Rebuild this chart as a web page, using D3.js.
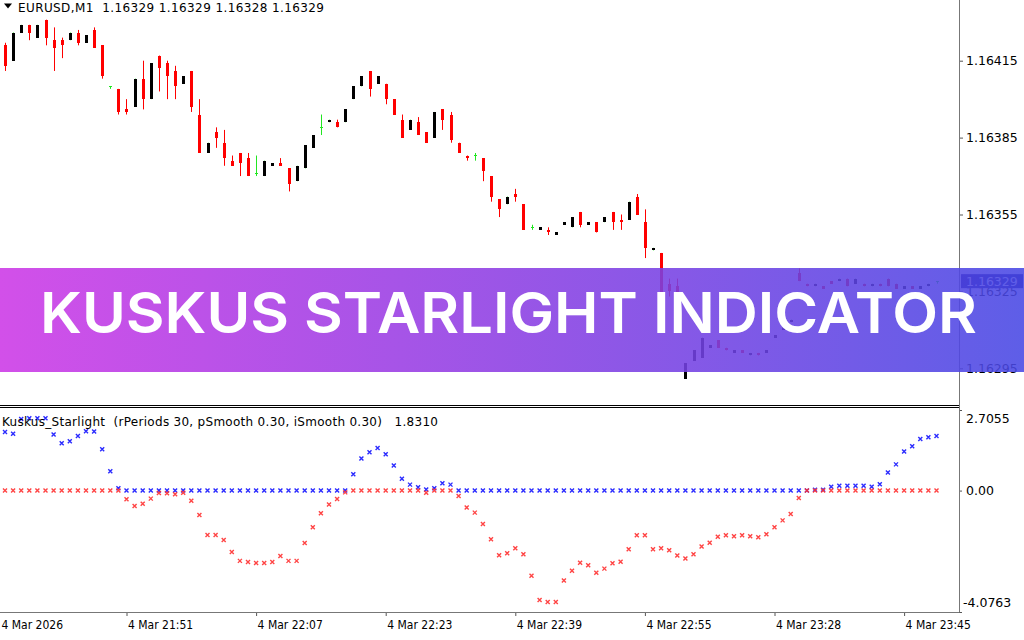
<!DOCTYPE html>
<html>
<head>
<meta charset="utf-8">
<title>Kuskus Starlight Indicator</title>
<script src="https://cdn.jsdelivr.net/npm/d3@7"></script>
<style>
  body { margin: 0; background: #fff; }
  svg { display: block; font-family: "DejaVu Sans", Tahoma, sans-serif; }
</style>
</head>
<body>
<script>
// EURUSD M1 bars (index 0 = leftmost bar)
var open  = [1.16421,1.16415,1.16426,1.16429,1.16424,1.16431,1.16423,1.16423,1.16423,1.16426,
             1.16422,1.16427,1.16421,1.16405,1.16404,1.16396,1.16397,1.16408,1.16400,1.16417,
             1.16414,1.16411,1.16406,1.16411,1.16394,1.16379,1.16387,1.16383,1.16376,1.16379,
             1.16377,1.16371,1.16370,1.16374,1.16375,1.16373,1.16368,1.16373,1.16381,1.16389,
             1.16391,1.16391,1.16391,1.16400,1.16405,1.16411,1.16406,1.16406,1.16400,1.16392,
             1.16388,1.16391,1.16387,1.16385,1.16396,1.16394,1.16383,1.16378,1.16378,1.16377,
             1.16370,1.16361,1.16359,1.16363,1.16359,1.16350,1.16349,1.16349,1.16347,1.16351,
             1.16350,1.16356,1.16351,1.16352,1.16352,1.16356,1.16353,1.16353,1.16362,1.16352,
             1.16341,1.16340,1.16328,1.16327,1.16291,1.16298,1.16299,1.16303,1.16306,1.16303,
             1.16301,1.16302,1.16300,1.16301,1.16301,1.16307,1.16310,1.16313,1.16332,1.16328,
             1.16327,1.16327,1.16329,1.16329,1.16330,1.16328,1.16328,1.16327,1.16328,1.16330,
             1.16328,1.16326,1.16327,1.16326,1.16327,1.16329];
var high  = [1.16422,1.16426,1.16429,1.16429,1.16429,1.16431,1.16428,1.16424,1.16426,1.16427,
             1.16425,1.16428,1.16421,1.16405,1.16404,1.16400,1.16408,1.16415,1.16414,1.16417,
             1.16415,1.16413,1.16409,1.16411,1.16400,1.16383,1.16389,1.16388,1.16378,1.16379,
             1.16379,1.16378,1.16376,1.16375,1.16377,1.16373,1.16374,1.16382,1.16386,1.16394,
             1.16392,1.16392,1.16396,1.16405,1.16409,1.16411,1.16409,1.16406,1.16400,1.16394,
             1.16392,1.16393,1.16387,1.16395,1.16396,1.16395,1.16383,1.16378,1.16379,1.16377,
             1.16370,1.16361,1.16362,1.16365,1.16359,1.16351,1.16350,1.16350,1.16348,1.16352,
             1.16354,1.16356,1.16352,1.16352,1.16354,1.16356,1.16355,1.16360,1.16363,1.16357,
             1.16342,1.16340,1.16330,1.16330,1.16297,1.16302,1.16307,1.16304,1.16306,1.16303,
             1.16302,1.16302,1.16301,1.16301,1.16302,1.16308,1.16311,1.16314,1.16334,1.16328,
             1.16328,1.16327,1.16329,1.16330,1.16330,1.16330,1.16328,1.16328,1.16328,1.16330,
             1.16328,1.16327,1.16327,1.16327,1.16328,1.16329];
var low   = [1.16411,1.16415,1.16426,1.16423,1.16424,1.16421,1.16411,1.16416,1.16423,1.16421,
             1.16422,1.16420,1.16408,1.16404,1.16394,1.16394,1.16397,1.16396,1.16400,1.16403,
             1.16400,1.16400,1.16406,1.16395,1.16379,1.16379,1.16381,1.16374,1.16374,1.16370,
             1.16370,1.16370,1.16370,1.16374,1.16374,1.16364,1.16368,1.16373,1.16381,1.16386,
             1.16391,1.16389,1.16391,1.16400,1.16405,1.16401,1.16406,1.16398,1.16394,1.16385,
             1.16388,1.16386,1.16383,1.16385,1.16388,1.16383,1.16379,1.16376,1.16376,1.16368,
             1.16360,1.16354,1.16359,1.16360,1.16349,1.16349,1.16349,1.16347,1.16347,1.16351,
             1.16350,1.16350,1.16351,1.16348,1.16352,1.16349,1.16349,1.16353,1.16355,1.16338,
             1.16341,1.16321,1.16323,1.16322,1.16291,1.16298,1.16299,1.16303,1.16303,1.16302,
             1.16301,1.16301,1.16300,1.16300,1.16301,1.16307,1.16310,1.16313,1.16329,1.16327,
             1.16327,1.16326,1.16328,1.16329,1.16327,1.16328,1.16327,1.16327,1.16327,1.16327,
             1.16326,1.16326,1.16326,1.16326,1.16327,1.16328];
var close = [1.16413,1.16426,1.16429,1.16426,1.16429,1.16424,1.16420,1.16421,1.16426,1.16422,
             1.16425,1.16420,1.16409,1.16405,1.16395,1.16395,1.16408,1.16400,1.16414,1.16412,
             1.16409,1.16405,1.16409,1.16397,1.16379,1.16383,1.16385,1.16377,1.16374,1.16375,
             1.16370,1.16371,1.16376,1.16375,1.16374,1.16367,1.16374,1.16382,1.16386,1.16389,
             1.16392,1.16389,1.16396,1.16405,1.16409,1.16404,1.16409,1.16400,1.16394,1.16385,
             1.16392,1.16386,1.16383,1.16395,1.16392,1.16384,1.16379,1.16377,1.16378,1.16372,
             1.16362,1.16357,1.16362,1.16362,1.16349,1.16350,1.16350,1.16348,1.16348,1.16352,
             1.16354,1.16351,1.16352,1.16348,1.16354,1.16352,1.16352,1.16360,1.16355,1.16342,
             1.16342,1.16324,1.16325,1.16322,1.16297,1.16302,1.16307,1.16304,1.16303,1.16302,
             1.16302,1.16301,1.16301,1.16300,1.16302,1.16308,1.16311,1.16314,1.16329,1.16327,
             1.16328,1.16326,1.16328,1.16330,1.16327,1.16330,1.16327,1.16328,1.16327,1.16327,
             1.16326,1.16327,1.16326,1.16327,1.16328,1.16329];

// Kuskus_Starlight buffers (blue = positive side, red = negative side)
var blueVals = [1.97,1.91,2.40,2.43,2.43,2.43,1.88,1.59,1.66,1.83,1.99,1.98,1.39,0.65,0.08,
                0,0,0,0,0,0,0,0,0,0,0,0,0,0,0,0,0,0,0,0,0,0,0,0,0,0,0,0,
                0.55,1.08,1.29,1.43,1.22,0.84,0.40,0.20,0.11,0.04,0.08,0.25,0.20,
                0,0,0,0,0,0,0,0,0,0,0,0,0,0,0,0,0,0,0,0,0,0,0,0,0,0,0,0,0,0,0,0,0,0,0,0,0,0,0,0,0,0,0,0,
                0.03,0.03,0.13,0.16,0.16,0.16,0.16,0.13,0.21,0.61,0.88,1.31,1.49,1.73,1.79,1.83];
var redVals  = [0,0,0,0,0,0,0,0,0,0,0,0,0,0,0,
                -0.29,-0.52,-0.44,-0.27,-0.08,-0.09,-0.12,-0.07,-0.34,-0.82,
                -1.49,-1.49,-1.66,-2.06,-2.36,-2.40,-2.43,-2.43,-2.40,-2.20,-2.36,-2.36,-1.76,
                -1.23,-0.76,-0.47,-0.28,-0.06,
                0,0,0,0,0,0,0,0,0,-0.07,0,0,0,
                -0.18,-0.57,-0.74,-1.12,-1.63,-2.17,-2.10,-1.94,-2.14,-2.86,-3.67,-3.74,-3.74,
                -3.02,-2.69,-2.42,-2.51,-2.76,-2.62,-2.44,-2.39,-1.97,-1.50,-1.50,-1.97,-1.94,
                -2.00,-2.18,-2.28,-2.14,-1.88,-1.75,-1.55,-1.50,-1.53,-1.50,-1.53,-1.57,-1.47,
                -1.23,-1.00,-0.79,-0.25,
                0,0,0,0,0,0,0,0,0,0,0,0,0,0,0,0,0];

var priceTicks = [1.16415, 1.16385, 1.16355, 1.16325, 1.16295];
var lastPrice = 1.16329;
var indTicks = [2.7055, 0, -4.0763];
var indTickLabels = ["2.7055", "0.00", "-4.0763"];
var timeTickBars = [-1, 15, 31, 47, 63, 79, 95, 111];
var timeTickLabels = ["4 Mar 2026", "4 Mar 21:51", "4 Mar 22:07", "4 Mar 22:23",
                      "4 Mar 22:39", "4 Mar 22:55", "4 Mar 23:28", "4 Mar 23:45"];
var header = "EURUSD,M1  1.16329 1.16329 1.16328 1.16329";
var indTitle = "Kuskus_Starlight  (rPeriods 30, pSmooth 0.30, iSmooth 0.30)   1.8310";
var bannerText = "KUSKUS STARLIGHT INDICATOR";

var width = 1024, height = 640;
var axisX = 959;
var mainBottom = 404, indTop = 410, indBottom = 612;

var svg = d3.select("body").append("svg")
  .attr("width", width)
  .attr("height", height);

var defs = svg.append("defs");
defs.append("clipPath").attr("id", "mainClip")
  .append("rect").attr("x", 0).attr("y", 0).attr("width", axisX).attr("height", mainBottom);
defs.append("clipPath").attr("id", "indClip")
  .append("rect").attr("x", 0).attr("y", indTop).attr("width", axisX).attr("height", indBottom - indTop);
var grad = defs.append("linearGradient").attr("id", "bannerGrad")
  .attr("x1", "0%").attr("x2", "100%").attr("y1", "0%").attr("y2", "0%");
grad.append("stop").attr("offset", "0%").attr("stop-color", "#cc38e6");
grad.append("stop").attr("offset", "50%").attr("stop-color", "#8c3ee3");
grad.append("stop").attr("offset", "100%").attr("stop-color", "#4848e4");

svg.append("rect").attr("width", width).attr("height", height).attr("fill", "#fff");

// scales
var x = d3.scaleLinear().domain([0, open.length - 1]).range([5, 936.5]);
var yP = d3.scaleLinear().domain([1.16295, 1.16415]).range([368.3, 60.7]);
var yI = d3.scaleLinear().domain([-4.0763, 2.7055]).range([indBottom, indTop]);

// ---- candles
var bars = d3.range(open.length).map(function (i) {
  return {i: i, o: open[i], h: high[i], l: low[i], c: close[i]};
});
function bodyColor(d) { return d.c > d.o ? "#000" : (d.c < d.o ? "#ff0000" : "#22e622"); }
function wickColor(d) { return d.c < d.o ? "#ff0000" : "#22e622"; }

var candles = svg.append("g").attr("clip-path", "url(#mainClip)");
candles.selectAll("line.wick")
  .data(bars)
  .enter().append("line")
    .attr("class", "wick")
    .attr("x1", d => Math.round(x(d.i)) + 0.5)
    .attr("x2", d => Math.round(x(d.i)) + 0.5)
    .attr("y1", d => yP(d.h))
    .attr("y2", d => yP(d.l))
    .attr("stroke", wickColor)
    .attr("stroke-width", 1);
candles.selectAll("rect.body")
  .data(bars)
  .enter().append("rect")
    .attr("class", "body")
    .attr("x", d => Math.round(x(d.i)) - 1)
    .attr("width", 3)
    .attr("y", d => d.c === d.o ? yP(d.o) - 0.5 : yP(Math.max(d.o, d.c)))
    .attr("height", d => d.c === d.o ? 1 : Math.max(1.5, yP(Math.min(d.o, d.c)) - yP(Math.max(d.o, d.c))))
    .attr("fill", bodyColor)
    .attr("shape-rendering", "crispEdges");

// header
svg.append("path").attr("d", "M4,3.5L12,3.5L8,8.5Z").attr("fill", "#000");
svg.append("text")
  .attr("x", 18).attr("y", 11.5)
  .attr("font-size", "12px")
  .attr("fill", "#000")
  .attr("xml:space", "preserve")
  .attr("textLength", 306)
  .style("white-space", "pre")
  .text(header);

// ---- price axis
var pAxis = svg.append("g")
  .attr("transform", "translate(" + axisX + ",0)")
  .call(d3.axisRight(yP).tickValues(priceTicks).tickSize(4).tickFormat(d3.format(".5f")));
pAxis.select(".domain").remove();
pAxis.selectAll("line").attr("stroke", "#555");
pAxis.selectAll("text").attr("font-size", "12.5px").attr("font-family", "DejaVu Sans").attr("fill", "#000");

// current price box (sits over the 1.16325 label, as in MT4)
svg.append("rect")
  .attr("x", axisX + 2).attr("y", yP(lastPrice) - 7)
  .attr("width", 62).attr("height", 14)
  .attr("fill", "#0a0a80");
svg.append("text")
  .attr("x", axisX + 7).attr("y", yP(lastPrice) + 4.5)
  .attr("font-size", "12.5px").attr("fill", "#fff")
  .text(d3.format(".5f")(lastPrice));

// ---- separator between panes
svg.append("line").attr("x1", 0).attr("x2", axisX).attr("y1", 405.5).attr("y2", 405.5).attr("stroke", "#000");
svg.append("line").attr("x1", 0).attr("x2", axisX).attr("y1", 407.5).attr("y2", 407.5).attr("stroke", "#000");

// ---- indicator pane
var marker = "M-2,-2L2,2M-2,2L2,-2";
var ind = svg.append("g").attr("clip-path", "url(#indClip)");
ind.selectAll("path.blue")
  .data(blueVals)
  .enter().append("path")
    .attr("class", "blue")
    .attr("d", marker)
    .attr("transform", (d, i) => "translate(" + x(i) + "," + yI(d) + ")")
    .attr("stroke", "#2b2bff")
    .attr("stroke-width", 1.4)
    .attr("fill", "none");
ind.selectAll("path.red")
  .data(redVals)
  .enter().append("path")
    .attr("class", "red")
    .attr("d", marker)
    .attr("transform", (d, i) => "translate(" + x(i) + "," + yI(d) + ")")
    .attr("stroke", "#ff3030")
    .attr("stroke-opacity", 0.9)
    .attr("stroke-width", 1.4)
    .attr("fill", "none");

svg.append("text")
  .attr("x", 2).attr("y", 425.5)
  .attr("font-size", "12px")
  .attr("fill", "#000")
  .attr("xml:space", "preserve")
  .attr("textLength", 436)
  .style("white-space", "pre")
  .text(indTitle);

var iAxis = svg.append("g")
  .attr("transform", "translate(" + axisX + ",0)")
  .call(d3.axisRight(yI).tickValues(indTicks).tickSize(3).tickFormat((d, i) => indTickLabels[i]));
iAxis.select(".domain").remove();
iAxis.selectAll("line").attr("stroke", "#555");
iAxis.selectAll("text")
  .attr("font-size", "12.5px").attr("font-family", "DejaVu Sans").attr("fill", "#000")
  .attr("x", (d, i) => d < 0 ? 4 : 7)
  .attr("dy", (d, i) => i === 0 ? "1.0em" : (d < 0 ? "-0.45em" : "0.32em"));

// ---- time axis
var tAxis = svg.append("g")
  .attr("transform", "translate(0," + indBottom + ")")
  .call(d3.axisBottom(x).tickValues(timeTickBars).tickSize(4).tickFormat((d, i) => timeTickLabels[i]));
tAxis.select(".domain").remove();
tAxis.selectAll("line").attr("stroke", "#555");
tAxis.selectAll("text")
  .attr("font-size", "12px").attr("font-family", "DejaVu Sans Condensed, DejaVu Sans").attr("fill", "#000")
  .attr("text-anchor", "start")
  .attr("x", d => x(d) < 0 ? 1 - x(d) : 1)
  .attr("y", 8);

// frame lines
svg.append("line").attr("x1", axisX + 0.5).attr("x2", axisX + 0.5).attr("y1", 0).attr("y2", indBottom)
  .attr("stroke", "#777");
svg.append("line").attr("x1", 0).attr("x2", axisX + 0.5).attr("y1", indBottom + 0.5).attr("y2", indBottom + 0.5)
  .attr("stroke", "#777");

// ---- banner
svg.append("rect")
  .attr("x", 0).attr("y", 268).attr("width", width).attr("height", 104)
  .attr("fill", "url(#bannerGrad)")
  .attr("opacity", 0.88);
svg.append("text")
  .attr("x", 40).attr("y", 333)
  .attr("font-family", "Inter, 'Open Sans', sans-serif")
  .attr("font-weight", 600)
  .attr("font-size", "57px")
  .attr("fill", "#fff")
  .attr("textLength", 937)
  .attr("lengthAdjust", "spacingAndGlyphs")
  .text(bannerText);
</script>
</body>
</html>
